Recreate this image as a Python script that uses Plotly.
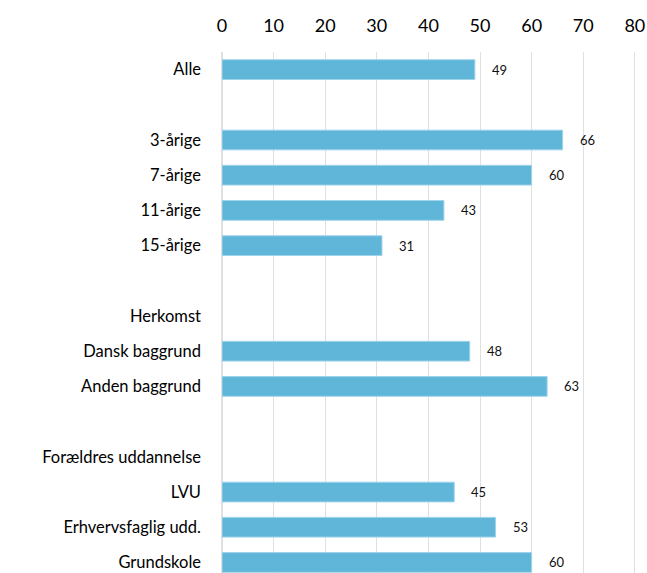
import plotly.graph_objects as go

categories = ["Alle", "", "3-årige", "7-årige", "11-årige", "15-årige", "",
              "Herkomst", "Dansk baggrund", "Anden baggrund", "",
              "Forældres uddannelse", "LVU", "Erhvervsfaglig udd.", "Grundskole"]
values = [49, None, 66, 60, 43, 31, None, None, 48, 63, None, None, 45, 53, 60]
x_ticks = [0, 10, 20, 30, 40, 50, 60, 70, 80]

rows = list(range(len(categories)))

fig = go.Figure()
fig.add_trace(go.Bar(
    x=values, y=rows, orientation="h", width=0.56,
    marker=dict(color="#60B6D9", line=dict(color="#9FD3EA", width=1)),
    hoverinfo="skip",
))

for r, v in zip(rows, values):
    if v is not None:
        fig.add_annotation(x=v, y=r, text=str(v), showarrow=False,
                           xanchor="left", xshift=15,
                           font=dict(family="Lato, sans-serif", size=13, color="#111111"))

fig.update_layout(
    width=647, height=573,
    margin=dict(l=222, r=7, t=52, b=0),
    plot_bgcolor="white", paper_bgcolor="white",
    showlegend=False,
    font=dict(family="Lato, sans-serif", color="#000000"),
    xaxis=dict(side="top", range=[0, 81], tickvals=x_ticks, showgrid=True,
               gridcolor="#E0E0E0", gridwidth=1, zeroline=True, zerolinecolor="#E0E0E0",
               showline=False, automargin=False,
               tickfont=dict(size=18), ticklabelstandoff=15, fixedrange=True),
    yaxis=dict(range=[14.3, -0.5], tickvals=rows, ticktext=categories,
               showgrid=False, zeroline=False, showline=False, automargin=False,
               tickfont=dict(size=16.5), ticklabelstandoff=20, fixedrange=True),
)

fig.write_html(
    "out.html",
    config={"displayModeBar": False},
    post_script="document.body.style.margin='0';document.body.style.overflow='hidden';",
)
